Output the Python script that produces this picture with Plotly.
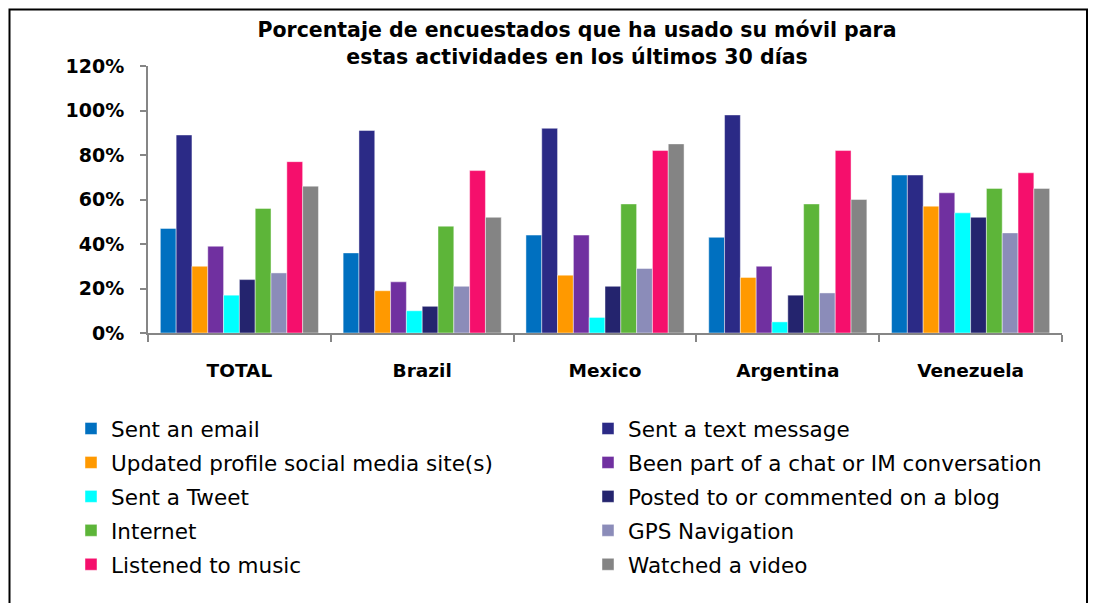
import plotly.graph_objects as go

categories = ["TOTAL", "Brazil", "Mexico", "Argentina", "Venezuela"]
series_names = [
    "Sent an email",
    "Sent a text message",
    "Updated profile social media site(s)",
    "Been part of a chat or IM conversation",
    "Sent a Tweet",
    "Posted to or commented on a blog",
    "Internet",
    "GPS Navigation",
    "Listened to music",
    "Watched a video",
]
sent_email = [47, 36, 44, 43, 71]
sent_text = [89, 91, 92, 98, 71]
updated_profile = [30, 19, 26, 25, 57]
chat_im = [39, 23, 44, 30, 63]
sent_tweet = [17, 10, 7, 5, 54]
blog = [24, 12, 21, 17, 52]
internet = [56, 48, 58, 58, 65]
gps = [27, 21, 29, 18, 45]
music = [77, 73, 82, 82, 72]
video = [66, 52, 85, 60, 65]

series_values = [sent_email, sent_text, updated_profile, chat_im, sent_tweet,
                 blog, internet, gps, music, video]
colors = ["#0070C0", "#2B2A86", "#FF9900", "#7030A0", "#00FFFF",
          "#24246E", "#5DB539", "#8B8CB9", "#F50F6C", "#848484"]

FONT = "DejaVu Sans"

fig = go.Figure()
for i, (name, vals, col) in enumerate(zip(series_names, series_values, colors)):
    fig.add_trace(go.Bar(
        name=name,
        x=categories,
        y=[v / 100 for v in vals],
        marker=dict(color=col, line=dict(color="rgba(255,255,255,0.45)", width=1)),
        legend="legend" if i % 2 == 0 else "legend2",
        legendgroup=name,
    ))

legend_common = dict(
    orientation="v",
    xref="container", yref="container",
    xanchor="left", yanchor="top",
    font=dict(family=FONT, size=21.5, color="#000000"),
    bgcolor="rgba(0,0,0,0)",
    tracegroupgap=3,
    itemclick=False,
)

# page has an 8px body offset; plot area spans x 148-1062, y 66-333 on screen
fig.update_layout(
    width=1096, height=603,
    paper_bgcolor="white", plot_bgcolor="white",
    margin=dict(l=140, r=42, t=58, b=278, autoexpand=False),
    barmode="group", bargap=0.135, bargroupgap=0,
    title=dict(
        text="Porcentaje de encuestados que ha usado su móvil para<br>estas actividades en los últimos 30 días",
        xref="container", x=569 / 1096, xanchor="center",
        yref="container", y=1 - 29 / 603, yanchor="top",
        font=dict(family=FONT, size=20.5, color="#000000", weight="bold"),
    ),
    legend=dict(x=63 / 1096, y=(603 - 400) / 603, **legend_common),
    legend2=dict(x=580 / 1096, y=(603 - 400) / 603, **legend_common),
    xaxis=dict(
        showline=True, linecolor="#868686", linewidth=2,
        ticks="outside", tickson="boundaries", ticklen=7, tickcolor="#868686", tickwidth=2,
        tickfont=dict(family=FONT, size=18.5, color="#000000", weight="bold"),
        ticklabelstandoff=20, tickangle=0,
        showgrid=False, zeroline=False,
    ),
    yaxis=dict(
        range=[0, 1.2], dtick=0.2, tickformat=".0%",
        showline=True, linecolor="#868686", linewidth=2,
        ticks="outside", ticklen=6, tickcolor="#868686", tickwidth=2,
        tickfont=dict(family=FONT, size=19, color="#000000", weight="bold"),
        ticklabelstandoff=12,
        showgrid=False, zeroline=False,
    ),
    shapes=[dict(
        type="rect", xref="paper", yref="paper",
        x0=(9.5 - 148) / 914, x1=(1087 - 148) / 914,
        y0=-1.05, y1=1 + (66 - 9.5) / 267,
        line=dict(color="#000000", width=2), fillcolor="rgba(0,0,0,0)",
        layer="below",
    )],
)

fig.write_html("out.html")
